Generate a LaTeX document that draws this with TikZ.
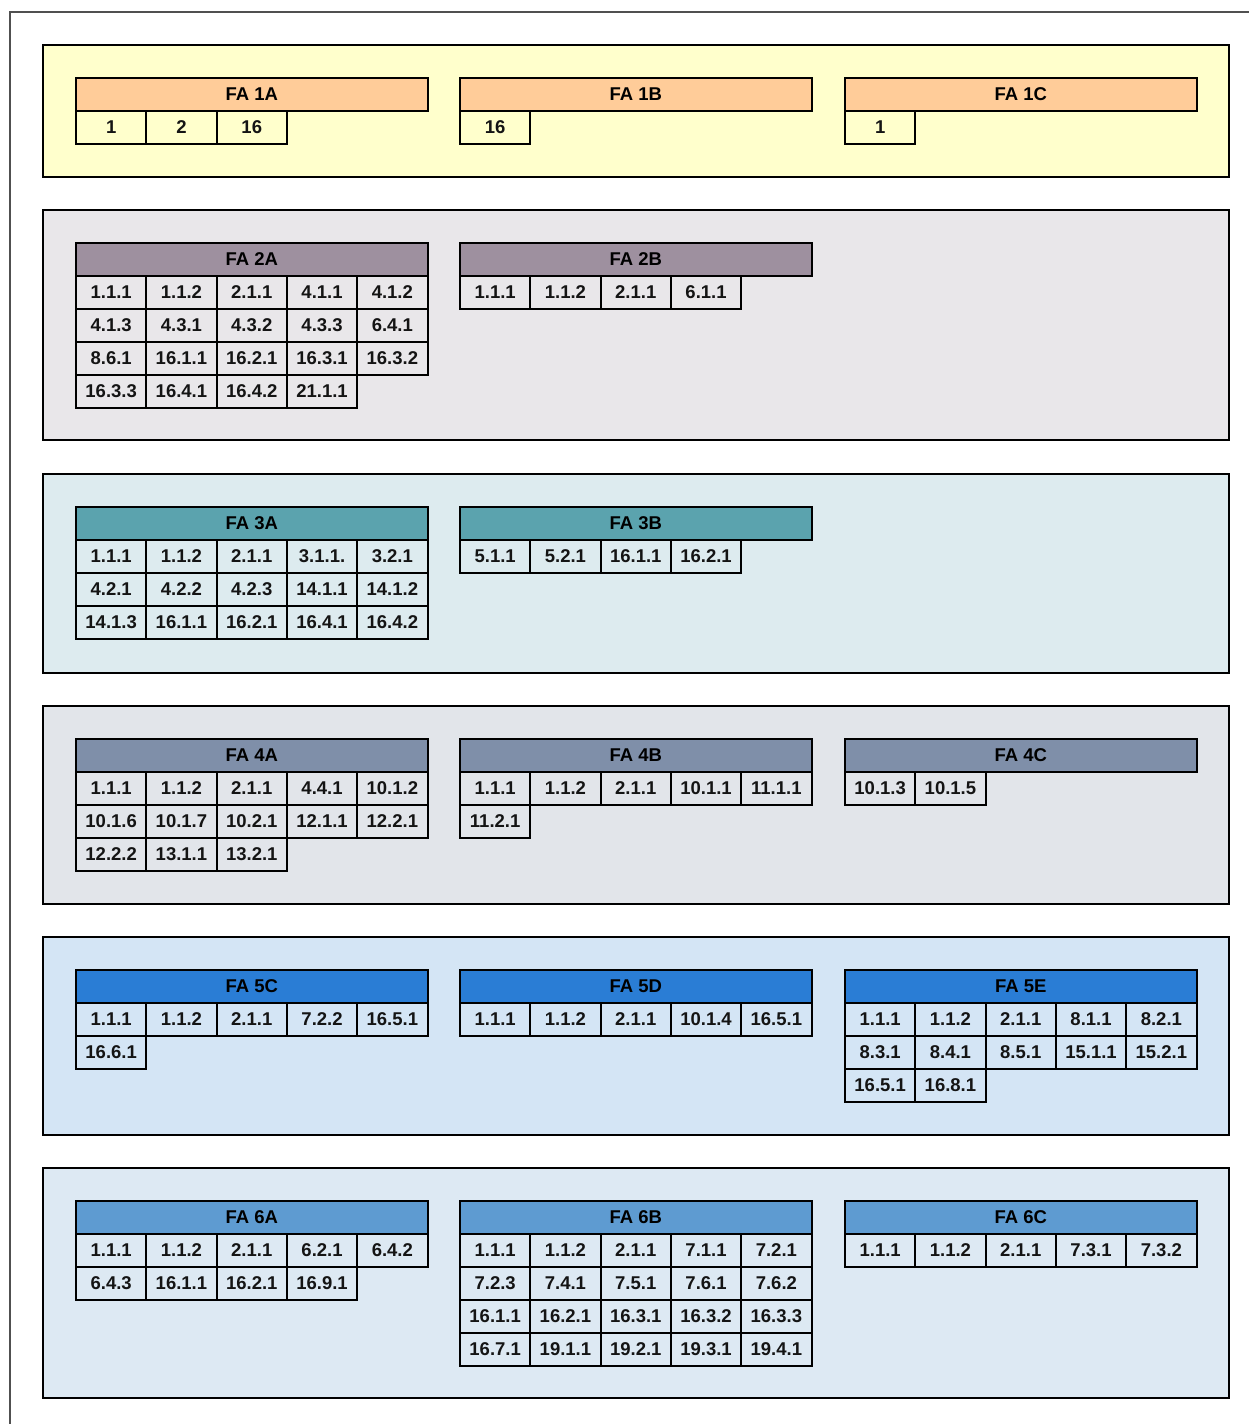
\documentclass[tikz,border=0pt]{standalone}
\usepackage{fontspec}
\setmainfont{Liberation Sans}
\definecolor{bgA}{HTML}{FFFFCC}\definecolor{hdA}{HTML}{FFCC99}
\definecolor{bgB}{HTML}{E9E7EA}\definecolor{hdB}{HTML}{9E909F}
\definecolor{bgC}{HTML}{DDEBEF}\definecolor{hdC}{HTML}{5BA3AE}
\definecolor{bgD}{HTML}{E2E5EA}\definecolor{hdD}{HTML}{7F8FA9}
\definecolor{bgE}{HTML}{D4E5F5}\definecolor{hdE}{HTML}{2A7DD5}
\definecolor{bgF}{HTML}{DDE9F3}\definecolor{hdF}{HTML}{5E9BD1}
\definecolor{framegray}{HTML}{505050}
\tikzset{
  panel/.style={draw=black, line width=2.4pt, anchor=north west, minimum width=1186pt, inner sep=0pt, outer sep=0pt},
  hdrbox/.style={draw=black, line width=2pt, anchor=north west, minimum width=351.5pt, minimum height=33pt, inner sep=0pt, outer sep=0pt, font=\bfseries\fontsize{18.5}{21}\selectfont, text=black},
  cellbox/.style={draw=black, line width=2pt, anchor=north west, minimum width=70.3pt, minimum height=33pt, inner sep=0pt, outer sep=0pt, font=\bfseries\fontsize{18.5}{21}\selectfont, text=black!92}
}
\newcommand{\fatab}[6]{%
  \node[hdrbox, fill=#4] (#1) at (#2,#3) {#5};
  \foreach \t [count=\i from 0] in {#6} {
    \pgfmathtruncatemacro{\cc}{mod(\i,5)}
    \pgfmathtruncatemacro{\rr}{int(\i/5)}
    \node[cellbox] (#1-\i) at ({#2+\cc*70.3},{#3+33+\rr*33}) {\t};
  }
}
\begin{document}
\begin{tikzpicture}[x=1pt,y=-1pt]
\useasboundingbox (0,0) rectangle (1249,1424);
\draw[framegray, line width=1.3pt] (1249,12) -- (10,12) -- (10,1424);
% panels
\node[panel, fill=bgA, minimum height=132pt] (p1) at (43,45) {};
\node[panel, fill=bgB, minimum height=230pt] (p2) at (43,210) {};
\node[panel, fill=bgC, minimum height=199pt] (p3) at (43,474) {};
\node[panel, fill=bgD, minimum height=198pt] (p4) at (43,706) {};
\node[panel, fill=bgE, minimum height=198pt] (p5) at (43,937) {};
\node[panel, fill=bgF, minimum height=230pt] (p6) at (43,1168) {};
% row 1
\fatab{t1a}{76}{78}{hdA}{FA 1A}{1,2,16}
\fatab{t1b}{460}{78}{hdA}{FA 1B}{16}
\fatab{t1c}{845}{78}{hdA}{FA 1C}{1}
% row 2
\fatab{t2a}{76}{243}{hdB}{FA 2A}{1.1.1,1.1.2,2.1.1,4.1.1,4.1.2,4.1.3,4.3.1,4.3.2,4.3.3,6.4.1,8.6.1,16.1.1,16.2.1,16.3.1,16.3.2,16.3.3,16.4.1,16.4.2,21.1.1}
\fatab{t2b}{460}{243}{hdB}{FA 2B}{1.1.1,1.1.2,2.1.1,6.1.1}
% row 3
\fatab{t3a}{76}{507}{hdC}{FA 3A}{1.1.1,1.1.2,2.1.1,3.1.1.,3.2.1,4.2.1,4.2.2,4.2.3,14.1.1,14.1.2,14.1.3,16.1.1,16.2.1,16.4.1,16.4.2}
\fatab{t3b}{460}{507}{hdC}{FA 3B}{5.1.1,5.2.1,16.1.1,16.2.1}
% row 4
\fatab{t4a}{76}{739}{hdD}{FA 4A}{1.1.1,1.1.2,2.1.1,4.4.1,10.1.2,10.1.6,10.1.7,10.2.1,12.1.1,12.2.1,12.2.2,13.1.1,13.2.1}
\fatab{t4b}{460}{739}{hdD}{FA 4B}{1.1.1,1.1.2,2.1.1,10.1.1,11.1.1,11.2.1}
\fatab{t4c}{845}{739}{hdD}{FA 4C}{10.1.3,10.1.5}
% row 5
\fatab{t5c}{76}{970}{hdE}{FA 5C}{1.1.1,1.1.2,2.1.1,7.2.2,16.5.1,16.6.1}
\fatab{t5d}{460}{970}{hdE}{FA 5D}{1.1.1,1.1.2,2.1.1,10.1.4,16.5.1}
\fatab{t5e}{845}{970}{hdE}{FA 5E}{1.1.1,1.1.2,2.1.1,8.1.1,8.2.1,8.3.1,8.4.1,8.5.1,15.1.1,15.2.1,16.5.1,16.8.1}
% row 6
\fatab{t6a}{76}{1201}{hdF}{FA 6A}{1.1.1,1.1.2,2.1.1,6.2.1,6.4.2,6.4.3,16.1.1,16.2.1,16.9.1}
\fatab{t6b}{460}{1201}{hdF}{FA 6B}{1.1.1,1.1.2,2.1.1,7.1.1,7.2.1,7.2.3,7.4.1,7.5.1,7.6.1,7.6.2,16.1.1,16.2.1,16.3.1,16.3.2,16.3.3,16.7.1,19.1.1,19.2.1,19.3.1,19.4.1}
\fatab{t6c}{845}{1201}{hdF}{FA 6C}{1.1.1,1.1.2,2.1.1,7.3.1,7.3.2}
\end{tikzpicture}
\end{document}
